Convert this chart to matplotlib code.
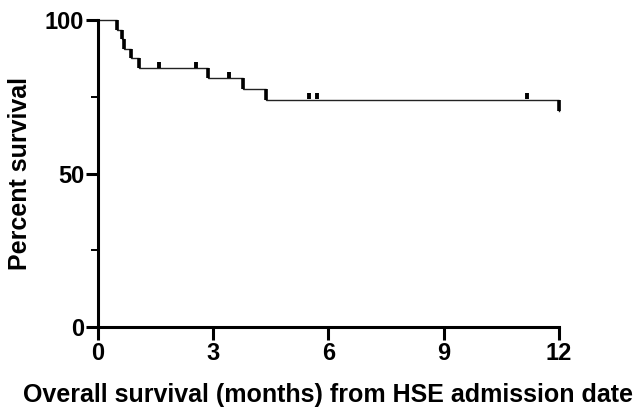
import numpy as np
import matplotlib
matplotlib.use("Agg")
import matplotlib.pyplot as plt
from matplotlib.ticker import MultipleLocator

plt.rcParams['font.family'] = ['Liberation Sans', 'DejaVu Sans']
plt.rcParams['font.weight'] = 'bold'

# Kaplan-Meier steps
event_times = [0.49, 0.63, 0.68, 0.85, 1.07, 2.87, 3.77, 4.37, 12.0]
event_levels = [96.9, 93.8, 90.6, 87.5, 84.4, 81.0, 77.6, 74.0, 70.5]
censor_times = [1.59, 2.55, 3.41, 5.49, 5.69, 11.16]

x_ticks = [0, 3, 6, 9, 12]
y_ticks = [0, 50, 100]

# build step curve
xs = [0.0]
ys = [100.0]
prev = 100.0
for t, s in zip(event_times, event_levels):
    xs += [t, t]
    ys += [prev, s]
    prev = s

def level_at(t):
    lev = 100.0
    for et, s in zip(event_times, event_levels):
        if et <= t:
            lev = s
    return lev

fig = plt.figure(figsize=(6.36, 4.09), dpi=100)
ax = fig.add_axes([0.154, 0.2005, 0.725, 0.7505])

ax.plot(xs, ys, color='#222222', lw=1.0, clip_on=False, solid_joinstyle='miter')
# thicker drop segments
prevs = [100.0] + event_levels[:-1]
ax.vlines(event_times, event_levels, prevs, color='black', lw=2.6, clip_on=False)
# censor ticks
cy = [level_at(t) + 1.1 for t in censor_times]
ax.plot(censor_times, cy, ls='none', marker='|', ms=5, mew=2.8, color='black', clip_on=False)

ax.set_xlim(0, 12)
ax.set_ylim(0, 100)
ax.set_xticks(x_ticks)
ax.set_yticks(y_ticks)
ax.yaxis.set_minor_locator(MultipleLocator(25))
ax.spines['top'].set_visible(False)
ax.spines['right'].set_visible(False)
for sp in ('left', 'bottom'):
    ax.spines[sp].set_linewidth(2.2)
ax.tick_params(axis='both', which='major', length=9, width=2.2, labelsize=17)
ax.tick_params(axis='x', which='major', pad=2)
ax.tick_params(axis='y', which='major', pad=1)
ax.tick_params(axis='y', which='minor', length=5, width=1.4)

ax.set_xlabel('Overall survival (months) from HSE admission date', fontsize=18, fontweight='bold', labelpad=13)
ax.set_ylabel('Percent survival', fontsize=18, fontweight='bold', labelpad=9)

fig.savefig('out.png', dpi=100)
